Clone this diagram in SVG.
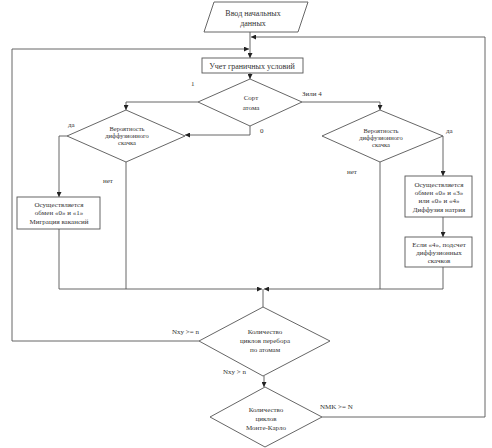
<svg xmlns="http://www.w3.org/2000/svg" width="492" height="448" viewBox="0 0 492 448">
<defs>
<marker id="ah" viewBox="0 0 10 10" refX="10" refY="5" markerWidth="5" markerHeight="5" orient="auto" markerUnits="userSpaceOnUse">
<path d="M0,0 L10,5 L0,10 z" fill="#222"/>
</marker>
</defs>
<style>
.s{fill:#fff;stroke:#555;stroke-width:0.9}
.c{fill:none;stroke:#555;stroke-width:0.9}
.a{marker-end:url(#ah)}
text{font-family:"Liberation Serif","Times New Roman",serif;fill:#333;text-anchor:middle}
.t8{font-size:8px}
.t7{font-size:7px}
.t6{font-size:6.5px}
.l{font-size:7px;text-anchor:start}
</style>
<rect width="492" height="448" fill="#fff"/>
<g id="connectors">
<line class="c a" x1="250" y1="32" x2="250" y2="58"/>
<polyline class="c a" points="322,417 485,417 485,37 251,37"/>
<polyline class="c a" points="199,341 12,341 12,49 249,49"/>
<line class="c a" x1="250" y1="73" x2="250" y2="79"/>
<polyline class="c a" points="198,102 126,102 126,110"/>
<polyline class="c a" points="302,102 380,102 380,110"/>
<polyline class="c a" points="250,126 250,135 185,135"/>
<polyline class="c a" points="67,136 59,136 59,197"/>
<polyline class="c a" points="443,136 443,176"/>
<line class="c a" x1="443" y1="217" x2="443" y2="237"/>
<line class="c" x1="126" y1="162" x2="126" y2="289"/>
<line class="c" x1="380" y1="162" x2="380" y2="289"/>
<polyline class="c a" points="59,229 59,289 262,289"/>
<polyline class="c a" points="443,267 443,289 264,289"/>
<line class="c" x1="263" y1="289" x2="263" y2="307"/>
<line class="c a" x1="264" y1="376" x2="264" y2="387"/>
</g>
<g id="n-input">
<polygon class="s" points="214,2 308,2 298,32 204,32"/>
<text class="t8" x="253" y="16">Ввод начальных</text>
<text class="t8" x="253" y="26">данных</text>
</g>
<g id="n-bounds">
<rect class="s" x="202" y="58" width="101" height="15"/>
<text class="t8" x="252" y="68.5">Учет граничных условий</text>
</g>
<g id="n-sort">
<polygon class="s" points="250,79 302,102 250,126 198,102"/>
<text class="t7" x="251" y="100">Сорт</text>
<text class="t7" x="251" y="110">атома</text>
</g>
<g id="n-prob-left">
<polygon class="s" points="126,110 185,136 126,162 67,136"/>
<text class="t6" x="127" y="131">Вероятность</text>
<text class="t6" x="127" y="138">диффузионного</text>
<text class="t6" x="127" y="145">скачка</text>
</g>
<g id="n-prob-right">
<polygon class="s" points="380,110 443,136 380,162 322,136"/>
<text class="t6" x="381" y="133">Вероятность</text>
<text class="t6" x="381" y="140">диффузионного</text>
<text class="t6" x="381" y="147">скачка</text>
</g>
<g id="n-migr">
<rect class="s" x="17" y="197" width="83" height="32"/>
<text class="t7" x="59" y="207">Осуществляется</text>
<text class="t7" x="59" y="215">обмен «0» и «1»</text>
<text class="t7" x="59" y="224">Миграция вакансий</text>
</g>
<g id="n-diff">
<rect class="s" x="405" y="176" width="67" height="41"/>
<text class="t7" x="439" y="187">Осуществляется</text>
<text class="t7" x="439" y="195">обмен «0» и «3»</text>
<text class="t7" x="439" y="203">или «0» и «4»</text>
<text class="t7" x="439" y="212">Диффузия натрия</text>
</g>
<g id="n-count4">
<rect class="s" x="405" y="237" width="67" height="30"/>
<text class="t7" x="439" y="247">Если «4», подсчет</text>
<text class="t7" x="439" y="255">диффузионных</text>
<text class="t7" x="439" y="263">скачков</text>
</g>
<g id="n-atoms">
<polygon class="s" points="263,307 330,341 263,376 199,341"/>
<text class="t7" x="265" y="334">Количество</text>
<text class="t7" x="265" y="343">циклов перебора</text>
<text class="t7" x="265" y="352">по атомам</text>
</g>
<g id="n-mc">
<polygon class="s" points="265,387 322,417 265,447 210,417"/>
<text class="t7" x="266" y="412">Количество</text>
<text class="t7" x="266" y="421">циклов</text>
<text class="t7" x="266" y="430">Монте-Карло</text>
</g>
<g id="labels">
<text class="l" x="191" y="86">1</text>
<text class="l" x="302" y="96">Зили 4</text>
<text class="l" x="260" y="133">0</text>
<text class="l" x="68" y="127">да</text>
<text class="l" x="103" y="183">нет</text>
<text class="l" x="446" y="133">да</text>
<text class="l" x="347" y="174">нет</text>
<text class="l" x="172" y="334">Nxy &gt;= n</text>
<text class="l" x="223" y="374">Nxy &gt; n</text>
<text class="l" x="320" y="409">NMK &gt;= N</text>
</g>
</svg>
